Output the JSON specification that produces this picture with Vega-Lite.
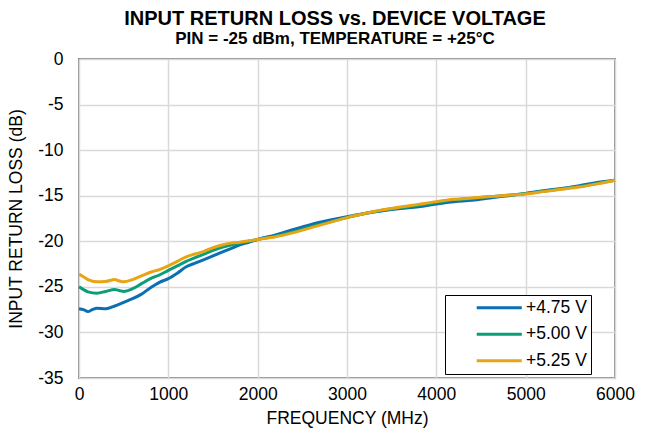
{
  "$schema": "https://vega.github.io/schema/vega-lite/v6.json",
  "autosize": "none",
  "width": 536,
  "height": 319,
  "padding": {"left": 79, "top": 59, "right": 33, "bottom": 62},
  "background": "white",
  "title": {
    "text": "INPUT RETURN LOSS vs. DEVICE VOLTAGE",
    "subtitle": "PIN = -25 dBm, TEMPERATURE = +25°C",
    "font": "Liberation Sans",
    "fontSize": 20,
    "fontWeight": "bold",
    "subtitleFont": "Liberation Sans",
    "subtitleFontSize": 17,
    "subtitleFontWeight": "bold",
    "subtitleColor": "black",
    "color": "black",
    "anchor": "middle",
    "frame": "group",
    "dx": -12,
    "offset": 3,
    "subtitlePadding": 2
  },
  "config": {
    "view": {"stroke": "#8c8c8c", "strokeWidth": 2},
    "axis": {
      "labelFont": "Liberation Sans",
      "titleFont": "Liberation Sans",
      "labelFontSize": 17.5,
      "titleFontSize": 17.5,
      "titleFontWeight": "normal",
      "labelColor": "black",
      "titleColor": "black",
      "gridColor": "#d9d9d9",
      "gridWidth": 1.5,
      "domain": false,
      "ticks": false,
      "tickSize": 0,
      "labelExpr": "replace(format(datum.value, 'd'), '−', '-')"
    },
    "legend": {
      "labelFont": "Liberation Sans",
      "labelFontSize": 17.5,
      "labelColor": "black"
    }
  },
  "data": {
    "values": [
      {"f": 0, "rl": -27.4, "v": "+4.75 V"},
      {"f": 50, "rl": -27.5, "v": "+4.75 V"},
      {"f": 100, "rl": -27.7, "v": "+4.75 V"},
      {"f": 150, "rl": -27.5, "v": "+4.75 V"},
      {"f": 200, "rl": -27.35, "v": "+4.75 V"},
      {"f": 300, "rl": -27.4, "v": "+4.75 V"},
      {"f": 400, "rl": -27.1, "v": "+4.75 V"},
      {"f": 500, "rl": -26.7, "v": "+4.75 V"},
      {"f": 600, "rl": -26.3, "v": "+4.75 V"},
      {"f": 700, "rl": -25.8, "v": "+4.75 V"},
      {"f": 800, "rl": -25.1, "v": "+4.75 V"},
      {"f": 900, "rl": -24.5, "v": "+4.75 V"},
      {"f": 1000, "rl": -24.1, "v": "+4.75 V"},
      {"f": 1100, "rl": -23.5, "v": "+4.75 V"},
      {"f": 1200, "rl": -22.8, "v": "+4.75 V"},
      {"f": 1300, "rl": -22.4, "v": "+4.75 V"},
      {"f": 1400, "rl": -22.0, "v": "+4.75 V"},
      {"f": 1500, "rl": -21.6, "v": "+4.75 V"},
      {"f": 1600, "rl": -21.2, "v": "+4.75 V"},
      {"f": 1700, "rl": -20.8, "v": "+4.75 V"},
      {"f": 1800, "rl": -20.4, "v": "+4.75 V"},
      {"f": 1900, "rl": -20.1, "v": "+4.75 V"},
      {"f": 2000, "rl": -19.8, "v": "+4.75 V"},
      {"f": 2200, "rl": -19.3, "v": "+4.75 V"},
      {"f": 2400, "rl": -18.7, "v": "+4.75 V"},
      {"f": 2600, "rl": -18.15, "v": "+4.75 V"},
      {"f": 2800, "rl": -17.7, "v": "+4.75 V"},
      {"f": 3000, "rl": -17.3, "v": "+4.75 V"},
      {"f": 3200, "rl": -16.95, "v": "+4.75 V"},
      {"f": 3400, "rl": -16.65, "v": "+4.75 V"},
      {"f": 3600, "rl": -16.4, "v": "+4.75 V"},
      {"f": 3800, "rl": -16.2, "v": "+4.75 V"},
      {"f": 4000, "rl": -15.9, "v": "+4.75 V"},
      {"f": 4200, "rl": -15.65, "v": "+4.75 V"},
      {"f": 4400, "rl": -15.5, "v": "+4.75 V"},
      {"f": 4600, "rl": -15.25, "v": "+4.75 V"},
      {"f": 4800, "rl": -15.0, "v": "+4.75 V"},
      {"f": 5000, "rl": -14.75, "v": "+4.75 V"},
      {"f": 5200, "rl": -14.45, "v": "+4.75 V"},
      {"f": 5400, "rl": -14.2, "v": "+4.75 V"},
      {"f": 5600, "rl": -13.9, "v": "+4.75 V"},
      {"f": 5800, "rl": -13.55, "v": "+4.75 V"},
      {"f": 6000, "rl": -13.3, "v": "+4.75 V"},

      {"f": 0, "rl": -25.0, "v": "+5.00 V"},
      {"f": 50, "rl": -25.3, "v": "+5.00 V"},
      {"f": 100, "rl": -25.55, "v": "+5.00 V"},
      {"f": 200, "rl": -25.7, "v": "+5.00 V"},
      {"f": 300, "rl": -25.5, "v": "+5.00 V"},
      {"f": 400, "rl": -25.3, "v": "+5.00 V"},
      {"f": 450, "rl": -25.4, "v": "+5.00 V"},
      {"f": 500, "rl": -25.5, "v": "+5.00 V"},
      {"f": 600, "rl": -25.2, "v": "+5.00 V"},
      {"f": 700, "rl": -24.65, "v": "+5.00 V"},
      {"f": 800, "rl": -24.1, "v": "+5.00 V"},
      {"f": 900, "rl": -23.7, "v": "+5.00 V"},
      {"f": 1000, "rl": -23.2, "v": "+5.00 V"},
      {"f": 1100, "rl": -22.7, "v": "+5.00 V"},
      {"f": 1200, "rl": -22.2, "v": "+5.00 V"},
      {"f": 1300, "rl": -21.8, "v": "+5.00 V"},
      {"f": 1400, "rl": -21.4, "v": "+5.00 V"},
      {"f": 1500, "rl": -21.0, "v": "+5.00 V"},
      {"f": 1600, "rl": -20.65, "v": "+5.00 V"},
      {"f": 1700, "rl": -20.4, "v": "+5.00 V"},
      {"f": 1800, "rl": -20.2, "v": "+5.00 V"},
      {"f": 1900, "rl": -20.0, "v": "+5.00 V"},
      {"f": 2000, "rl": -19.8, "v": "+5.00 V"},
      {"f": 2200, "rl": -19.45, "v": "+5.00 V"},
      {"f": 2400, "rl": -18.95, "v": "+5.00 V"},
      {"f": 2600, "rl": -18.4, "v": "+5.00 V"},
      {"f": 2800, "rl": -17.9, "v": "+5.00 V"},
      {"f": 3000, "rl": -17.4, "v": "+5.00 V"},
      {"f": 3200, "rl": -16.95, "v": "+5.00 V"},
      {"f": 3400, "rl": -16.6, "v": "+5.00 V"},
      {"f": 3600, "rl": -16.3, "v": "+5.00 V"},
      {"f": 3800, "rl": -16.05, "v": "+5.00 V"},
      {"f": 4000, "rl": -15.75, "v": "+5.00 V"},
      {"f": 4200, "rl": -15.45, "v": "+5.00 V"},
      {"f": 4400, "rl": -15.3, "v": "+5.00 V"},
      {"f": 4600, "rl": -15.1, "v": "+5.00 V"},
      {"f": 4800, "rl": -14.95, "v": "+5.00 V"},
      {"f": 5000, "rl": -14.75, "v": "+5.00 V"},
      {"f": 5200, "rl": -14.5, "v": "+5.00 V"},
      {"f": 5400, "rl": -14.25, "v": "+5.00 V"},
      {"f": 5600, "rl": -14.0, "v": "+5.00 V"},
      {"f": 5800, "rl": -13.65, "v": "+5.00 V"},
      {"f": 6000, "rl": -13.3, "v": "+5.00 V"},

      {"f": 0, "rl": -23.6, "v": "+5.25 V"},
      {"f": 50, "rl": -23.9, "v": "+5.25 V"},
      {"f": 100, "rl": -24.2, "v": "+5.25 V"},
      {"f": 200, "rl": -24.45, "v": "+5.25 V"},
      {"f": 300, "rl": -24.4, "v": "+5.25 V"},
      {"f": 400, "rl": -24.2, "v": "+5.25 V"},
      {"f": 450, "rl": -24.35, "v": "+5.25 V"},
      {"f": 500, "rl": -24.45, "v": "+5.25 V"},
      {"f": 600, "rl": -24.2, "v": "+5.25 V"},
      {"f": 700, "rl": -23.8, "v": "+5.25 V"},
      {"f": 800, "rl": -23.4, "v": "+5.25 V"},
      {"f": 900, "rl": -23.1, "v": "+5.25 V"},
      {"f": 1000, "rl": -22.7, "v": "+5.25 V"},
      {"f": 1100, "rl": -22.2, "v": "+5.25 V"},
      {"f": 1200, "rl": -21.7, "v": "+5.25 V"},
      {"f": 1300, "rl": -21.4, "v": "+5.25 V"},
      {"f": 1400, "rl": -21.1, "v": "+5.25 V"},
      {"f": 1500, "rl": -20.7, "v": "+5.25 V"},
      {"f": 1600, "rl": -20.4, "v": "+5.25 V"},
      {"f": 1700, "rl": -20.2, "v": "+5.25 V"},
      {"f": 1800, "rl": -20.1, "v": "+5.25 V"},
      {"f": 1900, "rl": -19.95, "v": "+5.25 V"},
      {"f": 2000, "rl": -19.8, "v": "+5.25 V"},
      {"f": 2200, "rl": -19.5, "v": "+5.25 V"},
      {"f": 2400, "rl": -19.05, "v": "+5.25 V"},
      {"f": 2600, "rl": -18.5, "v": "+5.25 V"},
      {"f": 2800, "rl": -17.95, "v": "+5.25 V"},
      {"f": 3000, "rl": -17.4, "v": "+5.25 V"},
      {"f": 3200, "rl": -16.95, "v": "+5.25 V"},
      {"f": 3400, "rl": -16.55, "v": "+5.25 V"},
      {"f": 3600, "rl": -16.25, "v": "+5.25 V"},
      {"f": 3800, "rl": -15.95, "v": "+5.25 V"},
      {"f": 4000, "rl": -15.65, "v": "+5.25 V"},
      {"f": 4200, "rl": -15.4, "v": "+5.25 V"},
      {"f": 4400, "rl": -15.25, "v": "+5.25 V"},
      {"f": 4600, "rl": -15.1, "v": "+5.25 V"},
      {"f": 4800, "rl": -14.95, "v": "+5.25 V"},
      {"f": 5000, "rl": -14.8, "v": "+5.25 V"},
      {"f": 5200, "rl": -14.55, "v": "+5.25 V"},
      {"f": 5400, "rl": -14.3, "v": "+5.25 V"},
      {"f": 5600, "rl": -14.05, "v": "+5.25 V"},
      {"f": 5800, "rl": -13.7, "v": "+5.25 V"},
      {"f": 6000, "rl": -13.3, "v": "+5.25 V"}
    ]
  },
  "mark": {"type": "line", "strokeWidth": 3, "interpolate": "monotone"},
  "encoding": {
    "x": {
      "field": "f",
      "type": "quantitative",
      "scale": {"domain": [0, 6000], "nice": false},
      "axis": {"values": [0, 1000, 2000, 3000, 4000, 5000, 6000], "title": "FREQUENCY (MHz)", "labelPadding": 7, "titlePadding": 7, "labelFlush": false}
    },
    "y": {
      "field": "rl",
      "type": "quantitative",
      "scale": {"domain": [-35, 0], "nice": false, "zero": false},
      "axis": {"values": [0, -5, -10, -15, -20, -25, -30, -35], "title": "INPUT RETURN LOSS (dB)", "labelPadding": 16, "titlePadding": 12}
    },
    "color": {
      "field": "v",
      "type": "nominal",
      "scale": {"domain": ["+4.75 V", "+5.00 V", "+5.25 V"], "range": ["#0b6fb3", "#0a9e78", "#e8a413"]},
      "legend": {
        "title": null,
        "orient": "none",
        "legendX": 366,
        "legendY": 236,
        "strokeColor": "black",
        "fillColor": "white",
        "padding": 4,
        "symbolType": "M-4.1,0H4.1",
        "symbolSize": 121,
        "symbolStrokeWidth": 3,
        "symbolOffset": 41.5,
        "labelOffset": 18,
        "rowPadding": 7.5,
        "labelExpr": "datum.label + '                 '"
      }
    }
  }
}
